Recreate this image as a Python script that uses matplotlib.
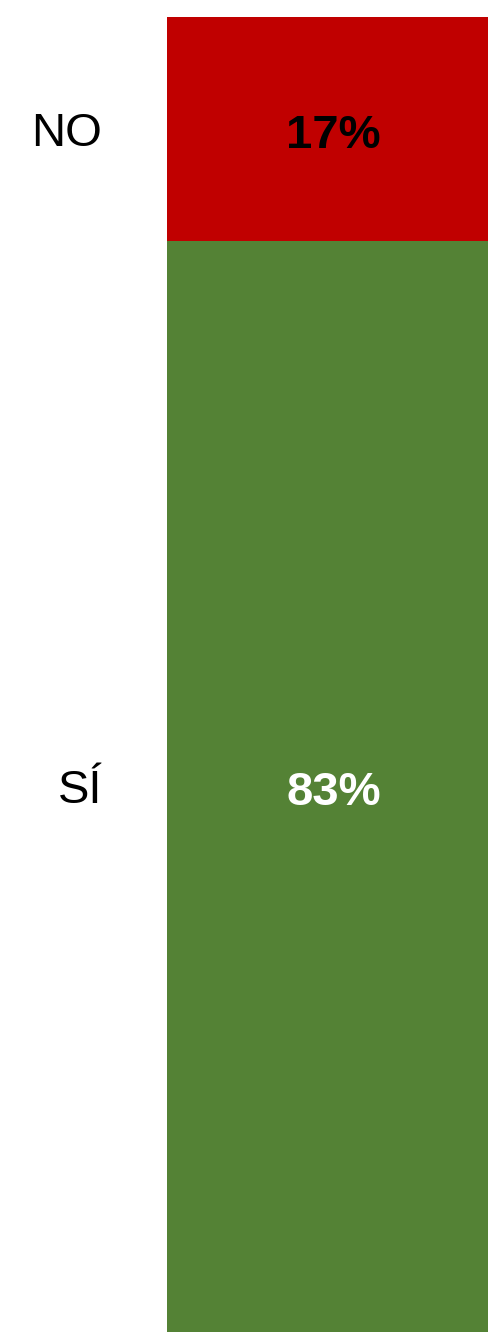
import matplotlib.pyplot as plt

categories = ["SÍ", "NO"]
values = [83, 17]
colors = ["#548235", "#C00000"]
label_colors = ["white", "black"]

plt.rcParams["font.family"] = ["Liberation Sans", "DejaVu Sans"]

fig = plt.figure(figsize=(4.88, 13.32), dpi=100)
ax = fig.add_axes([167 / 488, 0, 1 - 167 / 488, 1 - 17 / 1332])

PX = 0.72  # points per pixel at dpi 100

bottom = 0
for cat, val, col, lc in zip(categories, values, colors, label_colors):
    ax.bar(0, val, bottom=bottom, width=1.0, color=col, edgecolor="none")
    c = bottom + val / 2
    # value label, baseline set so caps sit centred in the segment
    ax.annotate(f"{val}%", xy=(0, c), xytext=(6 * PX, -19 * PX),
                textcoords="offset points", ha="center", va="baseline",
                fontsize=34, fontweight="bold", color=lc)
    # category label to the left of the bar
    ax.annotate(cat, xy=(0, c), xycoords=("axes fraction", "data"),
                xytext=(-65 * PX, -17 * PX), textcoords="offset points",
                ha="right", va="baseline", fontsize=34, color="black",
                annotation_clip=False)
    bottom += val

ax.set_xlim(-0.5, 0.5)
ax.set_ylim(0, sum(values))
ax.set_xticks([])
ax.set_yticks([])
for s in ax.spines.values():
    s.set_visible(False)

fig.savefig("out.png", dpi=100)
